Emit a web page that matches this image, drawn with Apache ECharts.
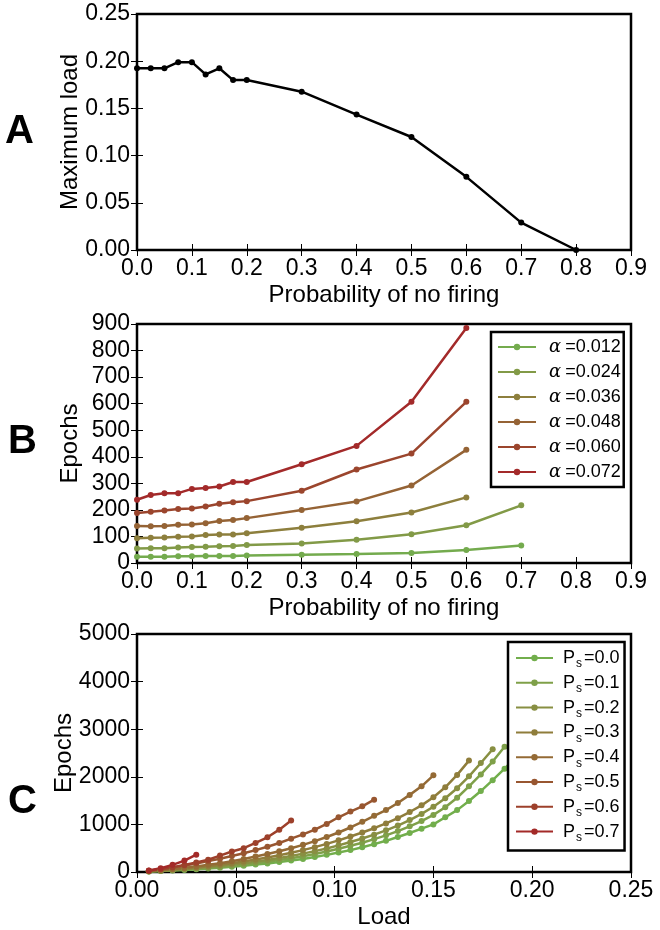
<!DOCTYPE html>
<html>
<head>
<meta charset="utf-8">
<script src="https://cdn.jsdelivr.net/npm/echarts@6/dist/echarts.min.js"></script>
<style>
html,body{margin:0;padding:0;background:#fff;}
#chart{width:660px;height:930px;}
</style>
</head>
<body>
<div id="chart"></div>
<script>
// ---------- Panel A ----------
const noFiringP = [0, 0.025, 0.05, 0.075, 0.1, 0.125, 0.15, 0.175, 0.2, 0.3, 0.4, 0.5, 0.6, 0.7, 0.8];
const maxLoad = [0.1925, 0.1925, 0.1925, 0.199, 0.199, 0.186, 0.1925, 0.180, 0.180, 0.1677, 0.1435, 0.1197, 0.0775, 0.029, 0.0];

// ---------- Panel B ----------
const noFiringB = [0, 0.025, 0.05, 0.075, 0.1, 0.125, 0.15, 0.175, 0.2, 0.3, 0.4, 0.5, 0.6, 0.7];
const alphaNames = ['0.012', '0.024', '0.036', '0.048', '0.060', '0.072'];
const epochsA012 = [24, 24, 24, 25, 25, 26, 26, 26, 28, 31, 34, 38, 49, 66];
const epochsA024 = [55, 56, 56, 58, 60, 61, 63, 64, 68, 73, 88, 108, 142, 217];
const epochsA036 = [93, 95, 96, 99, 100, 105, 107, 107, 112, 133, 157, 190, 247];
const epochsA048 = [139, 138, 139, 144, 145, 150, 158, 162, 169, 200, 232, 292, 426];
const epochsA060 = [188, 193, 198, 203, 205, 213, 223, 229, 233, 272, 352, 412, 607];
const epochsA072 = [238, 256, 263, 263, 279, 282, 288, 305, 305, 372, 441, 607, 885];
const epochsB = [epochsA012, epochsA024, epochsA036, epochsA048, epochsA060, epochsA072];

// ---------- Panel C ----------
const loadGrid = [0.006, 0.012, 0.018, 0.024, 0.030, 0.036, 0.042, 0.048, 0.054, 0.060, 0.066, 0.072,
  0.078, 0.084, 0.090, 0.096, 0.102, 0.108, 0.114, 0.120, 0.126, 0.132, 0.138, 0.144, 0.150, 0.156,
  0.162, 0.168, 0.174, 0.180, 0.186, 0.192];
const psNames = ['0.0', '0.1', '0.2', '0.3', '0.4', '0.5', '0.6', '0.7'];
const epochsPs00 = [10, 20, 31, 43, 57, 72, 90, 110, 130, 155, 180, 208, 240, 275, 315, 360, 410, 460, 520, 585, 655, 735, 820, 910, 1000, 1150, 1300, 1490, 1700, 1930, 2170, 2420];
const epochsPs01 = [12, 24, 37, 52, 68, 86, 106, 130, 156, 185, 215, 250, 288, 330, 378, 430, 490, 550, 615, 690, 770, 860, 960, 1070, 1200, 1360, 1560, 1800, 2050, 2320, 2630];
const epochsPs02 = [14, 28, 44, 62, 82, 104, 128, 155, 185, 218, 254, 294, 338, 386, 438, 495, 560, 630, 705, 785, 875, 975, 1090, 1220, 1370, 1550, 1760, 2010, 2290, 2580];
const epochsPs03 = [16, 33, 52, 73, 97, 123, 152, 185, 222, 262, 305, 352, 403, 460, 522, 590, 665, 745, 830, 920, 1020, 1130, 1260, 1400, 1570, 1780, 2040, 2340];
const epochsPs04 = [20, 40, 63, 89, 118, 150, 186, 228, 274, 324, 378, 436, 500, 570, 648, 735, 830, 935, 1055, 1180, 1300, 1450, 1620, 1800, 2030];
const epochsPs05 = [24, 55, 92, 135, 180, 228, 280, 335, 395, 460, 530, 610, 700, 790, 890, 1010, 1150, 1270, 1380, 1520];
const epochsPs06 = [28, 62, 102, 148, 200, 258, 345, 430, 500, 610, 730, 890, 1080];
const epochsPs07 = [30, 80, 150, 240, 365];
const epochsC = [epochsPs00, epochsPs01, epochsPs02, epochsPs03, epochsPs04, epochsPs05, epochsPs06, epochsPs07];

// ---------- Tick labels ----------
const probTicks = ['0.0', '0.1', '0.2', '0.3', '0.4', '0.5', '0.6', '0.7', '0.8', '0.9'];
const maxLoadTicks = ['0.00', '0.05', '0.10', '0.15', '0.20', '0.25'];
const epochsBTicks = ['0', '100', '200', '300', '400', '500', '600', '700', '800', '900'];
const loadTicks = ['0.00', '0.05', '0.10', '0.15', '0.20', '0.25'];
const epochsCTicks = ['0', '1000', '2000', '3000', '4000', '5000'];

// ---------- Styles ----------
const colorsB = ['#74ab4e', '#829a47', '#8d7f3d', '#956335', '#9b452d', '#a32a2a'];
const colorsC = ['#72ae4c', '#7fa049', '#888f42', '#8f7d3b', '#946a35', '#985630', '#9d402b', '#a32a28'];
const FONT = 'Liberation Sans, Arial, sans-serif';

const grids = [
  {left: 137, right: 29, top: 14, height: 236},
  {left: 137, right: 29, top: 324, height: 239},
  {left: 137, right: 29, top: 634, height: 238}
].map(g => Object.assign(g, {show: true, borderColor: '#000', borderWidth: 2.5, backgroundColor: 'transparent'}));

function lookup(labels, step) {
  return v => { const i = Math.round(v / step); return labels[i] !== undefined ? labels[i] : ''; };
}

function xAxes(gi, max, interval, labels, name) {
  const base = {
    gridIndex: gi, type: 'value', min: 0, max: max, interval: interval,
    axisLine: {show: false}, splitLine: {show: false},
    axisTick: {show: true, inside: true, length: 6, lineStyle: {color: '#000', width: 1}}
  };
  return [
    Object.assign({}, base, {
      position: 'bottom', name: name, nameLocation: 'middle', nameGap: 33, nameMoveOverlap: false,
      nameTextStyle: {fontSize: 24, color: '#000', fontFamily: FONT},
      axisLabel: {show: true, margin: 7, fontSize: 23, color: '#000', fontFamily: FONT,
        showMinLabel: true, showMaxLabel: true, formatter: lookup(labels, interval)}
    }),
    Object.assign({}, base, {position: 'top', axisLabel: {show: false}})
  ];
}

function yAxes(gi, max, interval, labels, name, gap) {
  const base = {
    gridIndex: gi, type: 'value', min: 0, max: max, interval: interval,
    axisLine: {show: false}, splitLine: {show: false},
    axisTick: {show: true, inside: true, length: 6, lineStyle: {color: '#000', width: 1}}
  };
  return [
    Object.assign({}, base, {
      position: 'left', name: name, nameLocation: 'middle', nameGap: gap, nameRotate: 90,
      nameMoveOverlap: false,
      nameTextStyle: {fontSize: 24, color: '#000', fontFamily: FONT},
      axisLabel: {show: true, margin: 7, fontSize: 23, color: '#000', fontFamily: FONT,
        showMinLabel: true, showMaxLabel: true, formatter: lookup(labels, interval)}
    }),
    Object.assign({}, base, {position: 'right', axisLabel: {show: false}})
  ];
}

const xAxis = [].concat(
  xAxes(0, 0.9, 0.1, probTicks, 'Probability of no firing'),
  xAxes(1, 0.9, 0.1, probTicks, 'Probability of no firing'),
  xAxes(2, 0.25, 0.05, loadTicks, 'Load')
);
const yAxis = [].concat(
  yAxes(0, 0.25, 0.05, maxLoadTicks, 'Maximum load', 55),
  yAxes(1, 900, 100, epochsBTicks, 'Epochs', 55),
  yAxes(2, 5000, 1000, epochsCTicks, 'Epochs', 61)
);

const series = [];
series.push({
  type: 'line', xAxisIndex: 0, yAxisIndex: 0, name: 'max',
  data: noFiringP.map((p, i) => [p, maxLoad[i]]),
  symbol: 'circle', symbolSize: 6, showSymbol: true,
  lineStyle: {color: '#000', width: 2.5}, itemStyle: {color: '#000'},
  animation: false
});
alphaNames.forEach((a, si) => {
  series.push({
    type: 'line', xAxisIndex: 2, yAxisIndex: 2, name: 'α=' + a,
    data: epochsB[si].map((v, i) => [noFiringB[i], v]),
    symbol: 'circle', symbolSize: 6,
    lineStyle: {color: colorsB[si], width: 2.5}, itemStyle: {color: colorsB[si]},
    animation: false
  });
});
psNames.forEach((p, si) => {
  series.push({
    type: 'line', xAxisIndex: 4, yAxisIndex: 4, name: 'Ps=' + p,
    data: epochsC[si].map((v, i) => [loadGrid[i], v]),
    symbol: 'circle', symbolSize: 6,
    lineStyle: {color: colorsC[si], width: 2.5}, itemStyle: {color: colorsC[si]},
    animation: false
  });
});

const legendBase = {
  orient: 'vertical', backgroundColor: '#fff', borderColor: '#000', borderWidth: 2.5,
  itemWidth: 38, itemHeight: 8, itemGap: 7, selectedMode: false,
  textStyle: {fontSize: 18, color: '#000', fontFamily: FONT, lineHeight: 18}
};

const legendB = Object.assign({}, legendBase, {
  left: 491, top: 332, padding: [6, 3, 6, 6],
  data: alphaNames.map(a => 'α=' + a),
  formatter: name => '{a|α}{t|' + name.slice(1) + '}',
  textStyle: Object.assign({}, legendBase.textStyle, {
    rich: {
      a: {fontSize: 18, fontFamily: 'DejaVu Serif, serif', fontStyle: 'italic', color: '#000', lineHeight: 18, padding: [0, 4, 0, 8]},
      t: {fontSize: 18, fontFamily: FONT, color: '#000', lineHeight: 18}
    }
  })
});
const legendC = Object.assign({}, legendBase, {
  left: 508, top: 642, padding: [7, 5, 7, 7], itemWidth: 37, itemGap: 3.8,
  data: psNames.map(p => 'Ps=' + p),
  formatter: name => '{p|P}{s|s}{t|' + name.slice(2) + '}',
  textStyle: Object.assign({}, legendBase.textStyle, {
    rich: {
      p: {fontSize: 18, fontFamily: FONT, color: '#000', padding: [0, 0, 0, 5], lineHeight: 18, verticalAlign: 'bottom'},
      s: {fontSize: 12, fontFamily: FONT, color: '#000', lineHeight: 12, verticalAlign: 'bottom', padding: [0, 2, -3, 1]},
      t: {fontSize: 18, fontFamily: FONT, color: '#000', lineHeight: 18, verticalAlign: 'bottom'}
    }
  })
});

const letterStyle = {fontSize: 40, fontWeight: 'bold', fill: '#000', fontFamily: FONT};
const option = {
  backgroundColor: '#fff',
  animation: false,
  grid: grids,
  xAxis: xAxis,
  yAxis: yAxis,
  legend: [legendB, legendC],
  series: series,
  graphic: [
    {type: 'text', left: 5, top: 112, style: Object.assign({text: 'A'}, letterStyle)},
    {type: 'text', left: 8, top: 422, style: Object.assign({text: 'B'}, letterStyle)},
    {type: 'text', left: 8, top: 782, style: Object.assign({text: 'C'}, letterStyle)}
  ]
};

const chart = echarts.init(document.getElementById('chart'), null, {renderer: 'canvas'});
chart.setOption(option);
</script>
</body>
</html>
